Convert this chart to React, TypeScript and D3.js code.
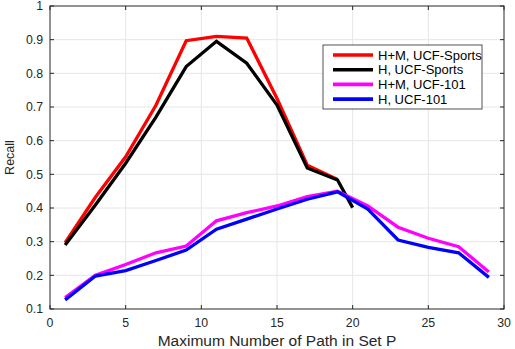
import React from 'react';
import * as d3 from 'd3';

const sportsX = [1, 3, 5, 7, 9, 11, 13, 15, 17, 19];
const sportsHX = [1, 3, 5, 7, 9, 11, 13, 15, 17, 19, 20];
const ucfX = [1, 3, 5, 7, 9, 11, 13, 15, 17, 19, 21, 23, 25, 27, 29];

const hmSports = [0.297, 0.432, 0.552, 0.705, 0.897, 0.91, 0.905, 0.725, 0.527, 0.485];
const hSports = [0.29, 0.409, 0.533, 0.67, 0.82, 0.895, 0.83, 0.706, 0.519, 0.483, 0.401];
const hmUcf = [0.134, 0.2, 0.232, 0.267, 0.287, 0.362, 0.386, 0.406, 0.434, 0.45, 0.406, 0.343, 0.31, 0.285, 0.21];
const hUcf = [0.127, 0.198, 0.214, 0.244, 0.275, 0.337, 0.367, 0.397, 0.426, 0.448, 0.397, 0.305, 0.283, 0.267, 0.194];

const xTicks = [0, 5, 10, 15, 20, 25, 30];
const yTicks = [0.1, 0.2, 0.3, 0.4, 0.5, 0.6, 0.7, 0.8, 0.9, 1];

const seriesNames = ['H+M, UCF-Sports', 'H, UCF-Sports', 'H+M, UCF-101', 'H, UCF-101'];
const seriesColors = ['#ff0000', '#000000', '#ff00ff', '#0000ff'];

const W = 515;
const H = 349;
const m = { left: 50, right: 11, top: 6, bottom: 40 };
const axisColor = '#262626';
const font = '"Liberation Sans", Arial, Helvetica, sans-serif';

export default function App() {
  const x = d3.scaleLinear().domain([0, 30]).range([m.left, W - m.right]);
  const y = d3.scaleLinear().domain([0.1, 1]).range([H - m.bottom, m.top]);

  const series = [
    { xs: sportsX, ys: hmSports },
    { xs: sportsHX, ys: hSports },
    { xs: ucfX, ys: hmUcf },
    { xs: ucfX, ys: hUcf },
  ];

  const line = d3
    .line<[number, number]>()
    .x((d) => x(d[0]))
    .y((d) => y(d[1]));

  const x0 = x(0);
  const x1 = x(30);
  const y0 = y(0.1);
  const y1 = y(1);
  const tick = 4;

  // legend placement
  const lg = { x: 323, y: 45, w: 159, h: 64 };
  const rowH = 14.7;

  return (
    <svg width={W} height={H} style={{ position: 'absolute', left: 0, top: 0, background: '#fff' }}>
      <rect x={0} y={0} width={W} height={H} fill="#fff" />
      {/* grid */}
      {xTicks.slice(1, -1).map((t) => (
        <line key={'gx' + t} x1={x(t)} x2={x(t)} y1={y0} y2={y1} stroke="#e6e6e6" strokeWidth={1} />
      ))}
      {yTicks.slice(1, -1).map((t) => (
        <line key={'gy' + t} x1={x0} x2={x1} y1={y(t)} y2={y(t)} stroke="#e6e6e6" strokeWidth={1} />
      ))}

      {/* data */}
      {series.map((s, i) => (
        <path
          key={'s' + i}
          d={line(s.xs.map((v, j) => [v, s.ys[j]] as [number, number])) || ''}
          fill="none"
          stroke={seriesColors[i]}
          strokeWidth={3.3}
        />
      ))}

      {/* box and ticks */}
      <rect x={x0} y={y1} width={x1 - x0} height={y0 - y1} fill="none" stroke={axisColor} strokeWidth={1} />
      {xTicks.map((t) => (
        <g key={'xt' + t}>
          <line x1={x(t)} x2={x(t)} y1={y0} y2={y0 - tick} stroke={axisColor} />
          <line x1={x(t)} x2={x(t)} y1={y1} y2={y1 + tick} stroke={axisColor} />
          <text
            x={x(t)}
            y={y0 + 18}
            textAnchor="middle"
            fontFamily={font}
            fontSize={12.3}
            fill={axisColor}
          >
            {t}
          </text>
        </g>
      ))}
      {yTicks.map((t) => (
        <g key={'yt' + t}>
          <line x1={x0} x2={x0 + tick} y1={y(t)} y2={y(t)} stroke={axisColor} />
          <line x1={x1} x2={x1 - tick} y1={y(t)} y2={y(t)} stroke={axisColor} />
          <text
            x={x0 - 7}
            y={y(t) + 4.3}
            textAnchor="end"
            fontFamily={font}
            fontSize={12.3}
            fill={axisColor}
          >
            {t}
          </text>
        </g>
      ))}

      {/* axis labels */}
      <text
        x={(x0 + x1) / 2}
        y={346}
        textAnchor="middle"
        fontFamily={font}
        fontSize={15.5}
        fill={axisColor}
      >
        Maximum Number of Path in Set P
      </text>
      <text
        transform={`translate(14,${(y0 + y1) / 2}) rotate(-90)`}
        textAnchor="middle"
        fontFamily={font}
        fontSize={12.5}
        fill={axisColor}
      >
        Recall
      </text>

      {/* legend */}
      <rect x={lg.x} y={lg.y} width={lg.w} height={lg.h} fill="#fff" stroke={axisColor} strokeWidth={0.8} />
      {seriesNames.map((name, i) => {
        const cy = lg.y + 10 + i * rowH;
        return (
          <g key={'lg' + i}>
            <line x1={lg.x + 10} x2={lg.x + 50} y1={cy} y2={cy} stroke={seriesColors[i]} strokeWidth={3.6} />
            <text x={lg.x + 55} y={cy + 4.5} fontFamily={font} fontSize={13} fill="#000">
              {name}
            </text>
          </g>
        );
      })}
    </svg>
  );
}
